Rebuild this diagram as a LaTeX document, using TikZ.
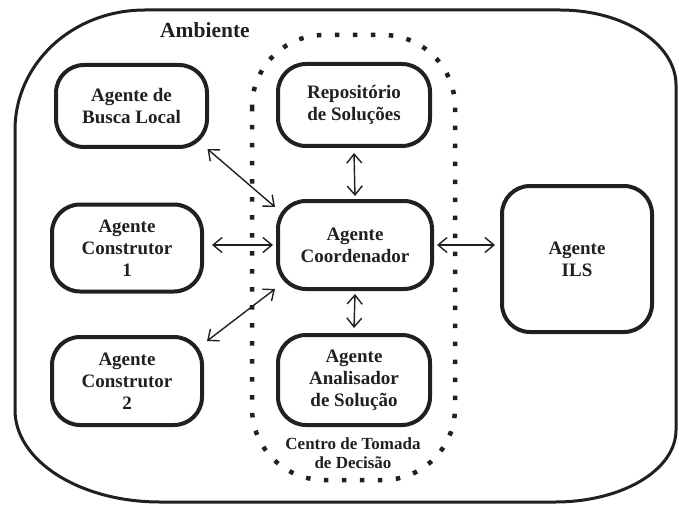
\documentclass[tikz,border=0pt]{standalone}
\usepackage{fontspec}
\setmainfont{Liberation Serif}
\usetikzlibrary{arrows.meta,calc}

\definecolor{ink}{HTML}{231F20}

\tikzset{
  agentbox/.style={draw=ink, text=ink, line width=4pt, rounded corners=28pt, align=center,
    inner sep=0pt, font=\fontsize{19}{22}\selectfont\bfseries},
  arr/.style={draw=ink, line width=1.4pt, {Straight Barb[length=9pt,width=15pt,line width=1.4pt]}-{Straight Barb[length=9pt,width=15pt,line width=1.4pt]}},
  envline/.style={draw=ink, line width=3pt},
  centerline/.style={draw=ink, line width=4.5pt, dash pattern=on 4.5pt off 13.5pt, rounded corners=72pt},
}

\begin{document}
\begin{tikzpicture}[x=1pt,y=-1pt]
\useasboundingbox (0,0) rectangle (679,505);

% environment boundary
\draw[envline] (15,130) .. controls (15,64) and (72,10) .. (145,10)
  -- (560,10) .. controls (624,10) and (676,44) .. (676,85)
  -- (676,430) .. controls (676,470) and (622,502) .. (555,502)
  -- (160,502) .. controls (80,502) and (15,461) .. (15,410) -- cycle;
\node[text=ink, font=\fontsize{21.5}{24}\selectfont\bfseries] (amb) at (205,30) {Ambiente};

% decision centre
\draw[centerline] (252,35) rectangle (455,480);
\node[text=ink, align=center, font=\fontsize{17}{19}\selectfont\bfseries] (ctd) at (353,453)
  {Centro de Tomada\\de Decisão};

% agents
\node[agentbox, minimum width=151pt, minimum height=82pt] (busca) at (131.5,106) {Agente de\\Busca Local};
\node[agentbox, minimum width=152pt, minimum height=82pt] (repo) at (354,105) {Repositório\\de Soluções};
\node[agentbox, minimum width=150pt, minimum height=87pt] (cons1) at (127,248) {Agente\\Construtor\\1};
\node[agentbox, minimum width=154pt, minimum height=88pt] (coord) at (355,245) {Agente\\Coordenador};
\node[agentbox, minimum width=150pt, minimum height=146pt] (ils) at (577,259) {Agente\\ILS};
\node[agentbox, minimum width=150pt, minimum height=88pt] (cons2) at (127,381) {Agente\\Construtor\\2};
\node[agentbox, minimum width=152pt, minimum height=90pt] (anal) at (354,380) {Agente\\Analisador\\de Solução};

% communication links
\draw[arr] ($(busca.south east)+(-1.5,0)$) -- ($(coord.north west)+(-1,8)$);
\draw[arr] ($(cons1.east |- coord.west)+(8,0)$) -- ($(coord.west)+(-3,0)$);
\draw[arr] ($(coord.south west)+(-1,-2)$) -- ($(cons2.north east)+(3,6)$);
\draw[arr] ($(repo.south)+(0,5)$) -- ($(coord.north)+(0,-3)$);
\draw[arr] ($(coord.south)+(0,3)$) -- ($(anal.north)+(0,-5)$);
\draw[arr] ($(coord.east)+(3,0)$) -- ($(coord.east -| ils.west)+(-5,0)$);
\end{tikzpicture}
\end{document}
